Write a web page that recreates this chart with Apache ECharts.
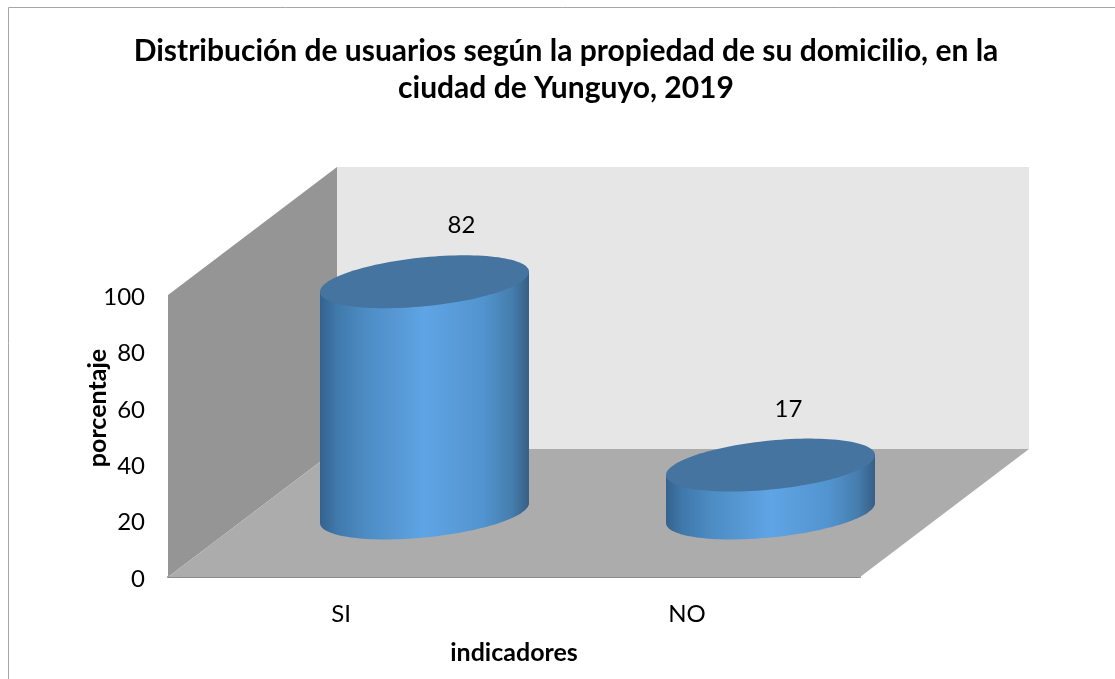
<!DOCTYPE html>
<html>
<head>
<meta charset="utf-8">
<style>html,body{margin:0;padding:0;background:#fff}#c{width:1115px;height:679px}</style>
<script src="https://cdn.jsdelivr.net/npm/echarts@6/dist/echarts.min.js"></script>
</head>
<body>
<div id="c"></div>
<script>
const titleText = 'Distribución de usuarios según la propiedad de su domicilio, en la\nciudad de Yunguyo, 2019';
const categories = ['SI', 'NO'];
const percentages = [82, 17];
const yAxisName = 'porcentaje';
const xAxisName = 'indicadores';

const FONT = 'Lato, "Open Sans", sans-serif';
const DEPTH_X = 169, DEPTH_Y = 128;
const RX_RATIO = 0.302, RY = 24.5, SHEAR = -10, CENTER_NUDGE = -1;
const LABEL_DX = [37, 18], LABEL_DY = -56;

const sideGradient = {
  type: 'linear', x: 0, y: 0, x2: 1, y2: 0,
  colorStops: [
    { offset: 0, color: '#34628e' },
    { offset: 0.08, color: '#4079ab' },
    { offset: 0.22, color: '#4d8cc4' },
    { offset: 0.5, color: '#5fa4e4' },
    { offset: 0.78, color: '#5294cf' },
    { offset: 0.92, color: '#457dad' },
    { offset: 1, color: '#375e84' }
  ]
};

function arc(cx, cy, rx, from, to, steps) {
  const pts = [];
  for (let i = 0; i <= steps; i++) {
    const t = from + (to - from) * i / steps;
    pts.push([cx + rx * Math.cos(t), cy + RY * Math.sin(t) + SHEAR * Math.cos(t)]);
  }
  return pts;
}

function renderWalls(params, api) {
  const g = params.coordSys;
  const l = g.x, r = g.x + g.width, t = g.y, b = g.y + g.height;
  return {
    type: 'group',
    children: [
      { type: 'polygon', shape: { points: [[l + DEPTH_X, t - DEPTH_Y], [r + DEPTH_X, t - DEPTH_Y], [r + DEPTH_X, b - DEPTH_Y], [l + DEPTH_X, b - DEPTH_Y]] }, style: { fill: '#e6e6e6' } },
      { type: 'polygon', shape: { points: [[l, t], [l + DEPTH_X, t - DEPTH_Y], [l + DEPTH_X, b - DEPTH_Y], [l, b]] }, style: { fill: '#959595' } },
      { type: 'polygon', shape: { points: [[l, b], [r, b], [r + DEPTH_X, b - DEPTH_Y], [l + DEPTH_X, b - DEPTH_Y]] }, style: { fill: '#acacac' } }
    ]
  };
}

function renderCylinder(params, api) {
  const idx = api.value(0), val = api.value(1);
  const top = api.coord([idx, val]);
  const base = api.coord([idx, 0]);
  const rx = api.size([1, 0])[0] * RX_RATIO;
  const cx = top[0] + DEPTH_X / 2 + CENTER_NUDGE;
  const topY = top[1] - DEPTH_Y / 2;
  const baseY = base[1] - DEPTH_Y / 2;
  const front = arc(cx, baseY, rx, 0, Math.PI, 64);
  const sidePts = [[cx + rx, topY + SHEAR]].concat(front, [[cx - rx, topY - SHEAR]]);
  return {
    type: 'group',
    children: [
      { type: 'polygon', shape: { points: sidePts }, style: { fill: sideGradient } },
      { type: 'polygon', shape: { points: arc(cx, topY, rx, 0, Math.PI * 2, 128) }, style: { fill: '#44749f' } },
      { type: 'text', style: { text: String(val), x: cx + LABEL_DX[idx], y: topY + LABEL_DY, align: 'center', verticalAlign: 'middle', font: '24px ' + FONT, fill: '#000' } }
    ]
  };
}

const chart = echarts.init(document.getElementById('c'), null, { renderer: 'canvas' });
chart.setOption({
  animation: false,
  backgroundColor: '#fff',
  title: {
    text: titleText, left: 566, top: 33, textAlign: 'center', padding: 0,
    textStyle: { fontFamily: FONT, fontWeight: 'bold', fontSize: 30, lineHeight: 37, color: '#000' }
  },
  graphic: [{
    type: 'rect', z: -10, silent: true,
    shape: { x: 8.5, y: 7.5, width: 1300, height: 900 },
    style: { fill: 'none', stroke: '#a6a6a6', lineWidth: 1 }
  }],
  grid: { left: 168, right: 255, top: 295, bottom: 102 },
  xAxis: {
    type: 'category', data: categories,
    name: xAxisName, nameLocation: 'middle', nameGap: 63, nameMoveOverlap: false,
    nameTextStyle: { fontFamily: FONT, fontWeight: 'bold', fontSize: 25, color: '#000' },
    axisLine: { show: true, onZero: false, lineStyle: { color: '#8c8c8c', width: 2 } },
    axisTick: { show: false },
    axisLabel: { fontFamily: FONT, fontSize: 24, color: '#000', margin: 25 }
  },
  yAxis: {
    type: 'value', min: 0, max: 100, interval: 20,
    name: yAxisName, nameLocation: 'middle', nameGap: 58, nameRotate: 90, nameMoveOverlap: false,
    nameTextStyle: { fontFamily: FONT, fontWeight: 'bold', fontSize: 25, color: '#000', padding: [0, 0, 0, 56] },
    axisLine: { show: false }, axisTick: { show: false }, splitLine: { show: false },
    axisLabel: {
      margin: 23,
      formatter: '{t|{value}}',
      rich: { t: { fontFamily: FONT, fontSize: 24, color: '#000', padding: [4, 0, 0, 0] } }
    }
  },
  series: [
    { type: 'custom', name: 'walls', coordinateSystem: 'cartesian2d', clip: false, silent: true, z: 1, data: [[0, 0]], encode: { x: 0, y: 1 }, renderItem: renderWalls },
    { type: 'custom', name: 'porcentaje', coordinateSystem: 'cartesian2d', clip: false, z: 2,
      data: percentages.map((v, i) => [i, v]), encode: { x: 0, y: 1 }, renderItem: renderCylinder }
  ]
});
</script>
</body>
</html>
